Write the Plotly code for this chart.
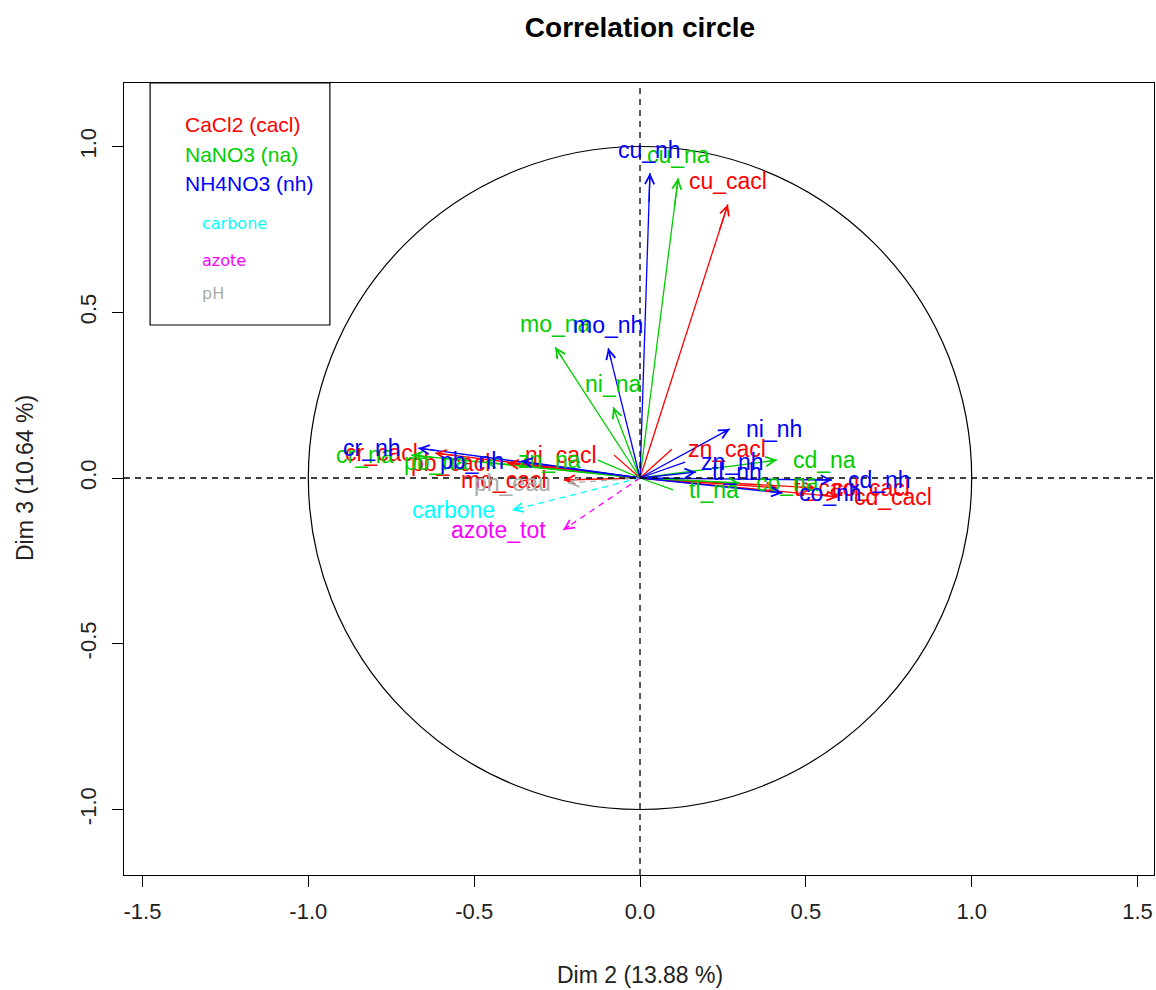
import plotly.graph_objects as go

# ---------------- data ----------------
title = "Correlation circle"
x_title = "Dim 2 (13.88 %)"
y_title = "Dim 3 (10.64 %)"
x_ticks = [-1.5, -1.0, -0.5, 0.0, 0.5, 1.0, 1.5]
x_tick_labels = ["-1.5", "-1.0", "-0.5", "0.0", "0.5", "1.0", "1.5"]
y_ticks = [-1.0, -0.5, 0.0, 0.5, 1.0]
y_tick_labels = ["-1.0", "-0.5", "0.0", "0.5", "1.0"]

cacl_names = ["cr_cacl", "pb_cacl", "ni_cacl", "mo_cacl", "cu_cacl", "zn_cacl", "tl_cacl", "co_cacl", "cd_cacl"]
cacl_x = [-0.618, -0.40, -0.078, -0.230, 0.265, 0.096, 0.415, 0.530, 0.597]
cacl_y = [0.075, 0.045, 0.069, -0.006, 0.826, 0.087, -0.030, -0.030, -0.057]

na_names = ["cr_na", "pb_na", "zn_na", "ni_na", "mo_na", "cu_na", "cd_na", "co_na", "tl_na"]
na_x = [-0.690, -0.467, -0.127, -0.081, -0.256, 0.115, 0.413, 0.300, 0.100]
na_y = [0.069, 0.048, 0.054, 0.214, 0.395, 0.905, 0.054, -0.015, -0.036]

nh_names = ["cr_nh", "pb_nh", "zn_nh", "ni_nh", "mo_nh", "cu_nh", "cd_nh", "co_nh", "tl_nh"]
nh_x = [-0.669, -0.359, 0.136, 0.271, -0.096, 0.030, 0.579, 0.430, 0.169]
nh_y = [0.090, 0.051, 0.048, 0.148, 0.392, 0.920, -0.006, -0.045, 0.018]

supp_names = ["carbone", "azote_tot", "ph_eau"]
supp_x = [-0.386, -0.232, -0.217]
supp_y = [-0.097, -0.157, -0.015]

legend_main = ["CaCl2 (cacl)", "NaNO3 (na)", "NH4NO3 (nh)"]
legend_supp = ["carbone", "azote", "pH"]

# ---------------- style ----------------
RED, GREEN, BLUE = "#FF0000", "#00CD00", "#0000FF"
CYAN, MAGENTA, GRAY = "#00FFFF", "#FF00FF", "#AAAAAA"
FONT = "Liberation Sans, Arial, sans-serif"
X_RANGE = [-1.5557, 1.5496]
Y_RANGE = [-1.1976, 1.1916]

groups = [
    (cacl_names, cacl_x, cacl_y, RED, "solid"),
    (na_names, na_x, na_y, GREEN, "solid"),
    (nh_names, nh_x, nh_y, BLUE, "solid"),
    ([supp_names[0]], [supp_x[0]], [supp_y[0]], CYAN, "6px,5px"),
    ([supp_names[1]], [supp_x[1]], [supp_y[1]], MAGENTA, "6px,5px"),
    ([supp_names[2]], [supp_x[2]], [supp_y[2]], GRAY, "6px,5px"),
]

fig = go.Figure()
annotations = []

for names, xs, ys, col, dash in groups:
    lx, ly = [], []
    for x, y in zip(xs, ys):
        lx += [0, x, None]
        ly += [0, y, None]
    fig.add_trace(go.Scatter(x=lx, y=ly, mode="lines",
                             line=dict(color=col, width=1.3, dash=dash),
                             hoverinfo="skip", showlegend=False))
    for n, x, y in zip(names, xs, ys):
        # arrow head
        annotations.append(dict(x=x, y=y, ax=x * 0.9, ay=y * 0.9, xref="x", yref="y",
                                axref="x", ayref="y", showarrow=True, text="",
                                arrowhead=5, arrowsize=1.4, arrowwidth=1.3,
                                arrowcolor=col))
        # label position (R-style pos)
        if abs(x) >= abs(y):
            if x > 0:
                kw = dict(xanchor="left", yanchor="middle", xshift=14, yshift=0)
            else:
                kw = dict(xanchor="right", yanchor="middle", xshift=-15, yshift=0)
        else:
            if y > 0:
                kw = dict(xanchor="center", yanchor="bottom", xshift=0, yshift=8)
            else:
                kw = dict(xanchor="center", yanchor="top", xshift=0, yshift=-8)
        annotations.append(dict(x=x, y=y, xref="x", yref="y", text=n, showarrow=False,
                                font=dict(family=FONT, size=23, color=col), **kw))

# legend texts (paper coordinates)
main_cols = [RED, GREEN, BLUE]
main_py = [124, 154, 184]
for t, c, py in zip(legend_main, main_cols, main_py):
    annotations.append(dict(x=(183 - 124) / 1030, y=(875 - py) / 792, xref="paper", yref="paper",
                            text=t, showarrow=False, xanchor="left", yanchor="middle",
                            font=dict(family=FONT, size=21, color=c)))
supp_cols = [CYAN, MAGENTA, GRAY]
supp_py = [224, 260, 293]
for t, c, py in zip(legend_supp, supp_cols, supp_py):
    annotations.append(dict(x=(200 - 124) / 1030, y=(875 - py) / 792, xref="paper", yref="paper",
                            text=t, showarrow=False, xanchor="left", yanchor="middle",
                            font=dict(family="DejaVu Sans, sans-serif", size=16, color=c)))

# axis titles
annotations.append(dict(x=(640 - 124) / 1030, y=(875 - 975) / 792, xref="paper", yref="paper",
                        text=x_title, showarrow=False, xanchor="center", yanchor="middle",
                        font=dict(family=FONT, size=23, color="#222222")))
annotations.append(dict(x=(25 - 124) / 1030, y=(875 - 478) / 792, xref="paper", yref="paper",
                        text=y_title, showarrow=False, xanchor="center", yanchor="middle",
                        textangle=-90, font=dict(family=FONT, size=23, color="#222222")))

shapes = [
    dict(type="circle", xref="x", yref="y", x0=-1, y0=-1, x1=1, y1=1,
         line=dict(color="black", width=1.2)),
    dict(type="line", xref="x", yref="y", x0=X_RANGE[0], x1=X_RANGE[1], y0=0, y1=0,
         line=dict(color="black", width=1.3, dash="6px,5px")),
    dict(type="line", xref="x", yref="y", x0=0, x1=0, y0=Y_RANGE[0], y1=Y_RANGE[1],
         line=dict(color="black", width=1.3, dash="6px,5px")),
    dict(type="rect", xref="x", yref="y", x0=-1.477, x1=-0.935, y0=0.4615, y1=Y_RANGE[1],
         line=dict(color="black", width=1.2)),
]

axis_common = dict(showgrid=False, zeroline=False, showline=True, mirror=True,
                   linecolor="black", linewidth=1.2, ticks="outside", ticklen=11,
                   tickcolor="black", tickwidth=1.2,
                   tickfont=dict(family=FONT, size=22, color="#222222"))

fig.update_layout(
    width=1156, height=990,
    margin=dict(l=124, r=2, t=83, b=115),
    paper_bgcolor="white", plot_bgcolor="white",
    title=dict(text="<b>" + title + "</b>", x=(640) / 1156, xanchor="center",
               y=1 - 27 / 990, yanchor="middle",
               font=dict(family=FONT, size=28, color="black")),
    xaxis=dict(range=X_RANGE, tickvals=x_ticks, ticktext=x_tick_labels,
               ticklabelstandoff=5, **axis_common),
    yaxis=dict(range=Y_RANGE, tickvals=y_ticks, ticktext=y_tick_labels,
               tickangle=-90, ticklabelstandoff=7, **axis_common),
    shapes=shapes,
    annotations=annotations,
    showlegend=False,
)

fig.write_html("out.html")
